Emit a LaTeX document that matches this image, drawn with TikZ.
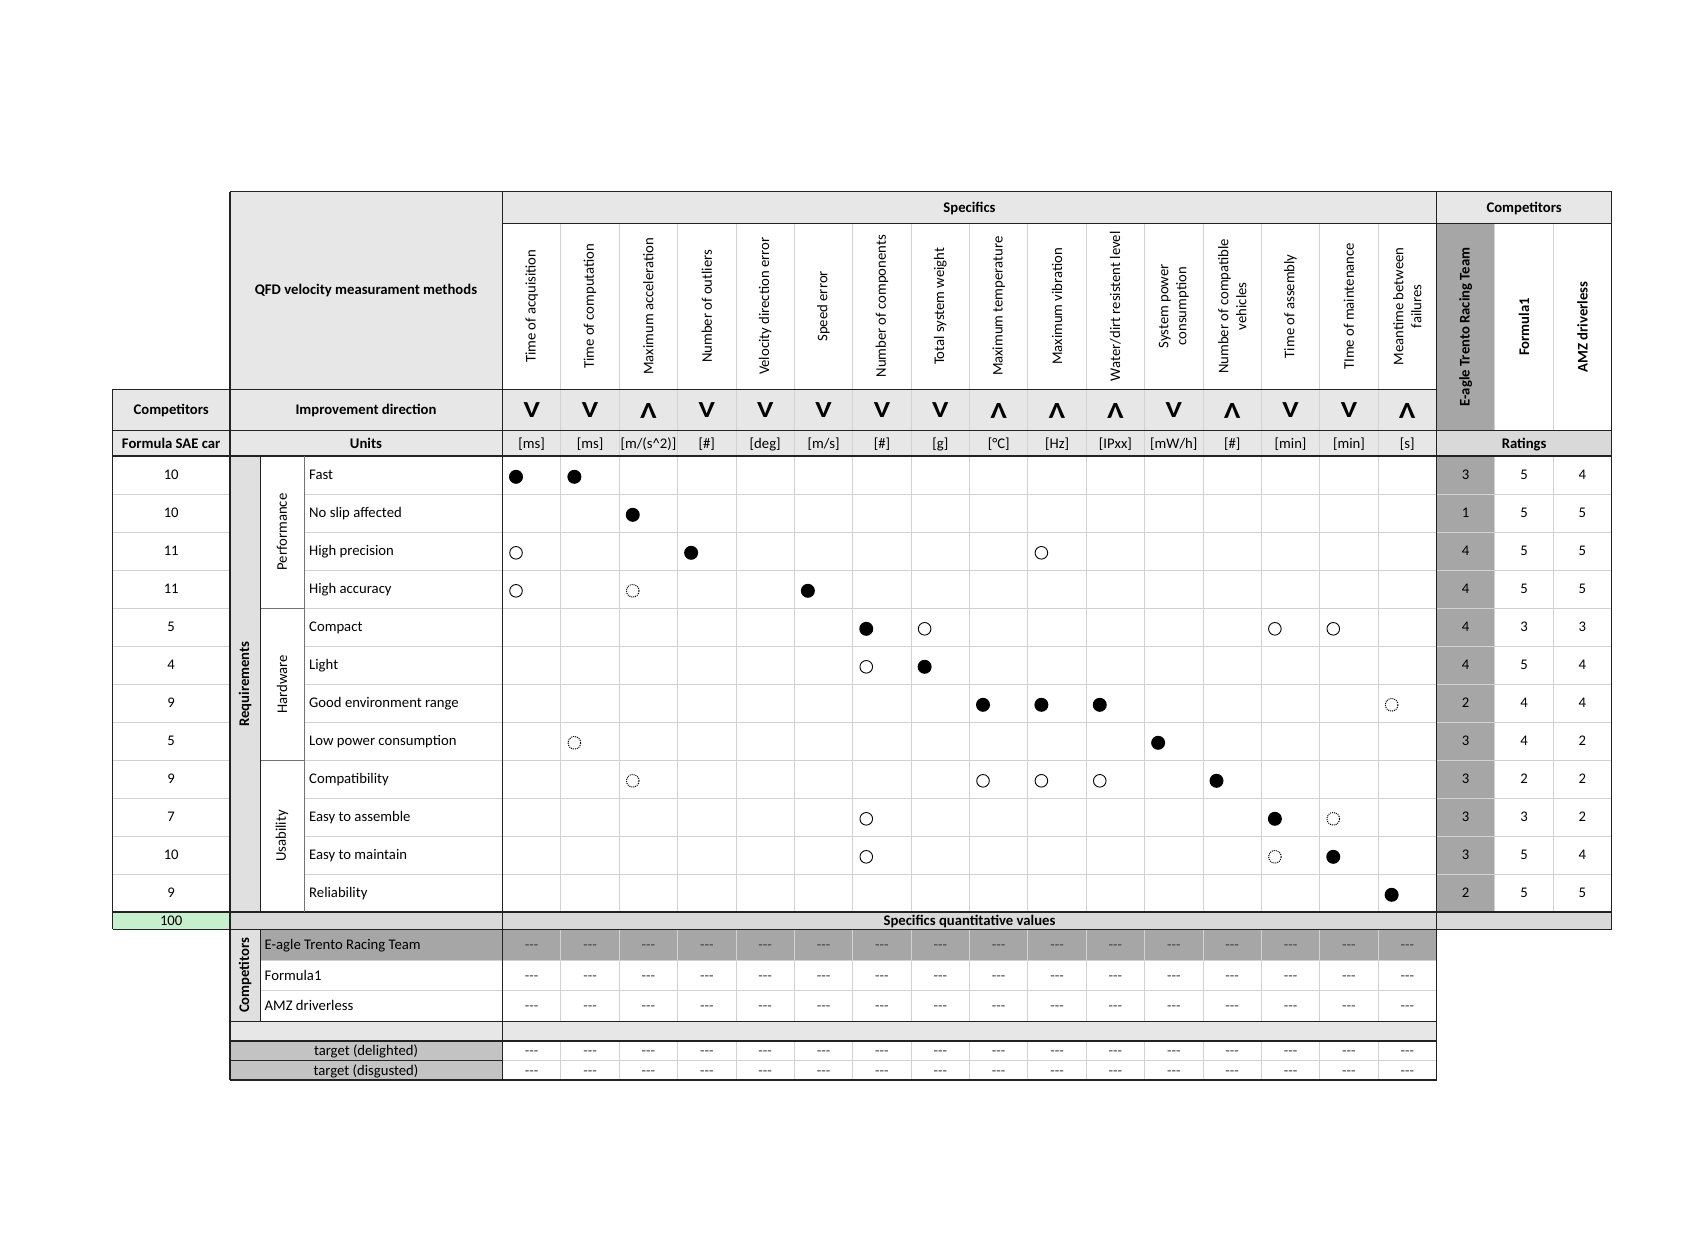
\documentclass[tikz,border=0pt]{standalone}
\usepackage{fontspec}
\setmainfont{Carlito}
\definecolor{hdr}{HTML}{E7E7E7}
\definecolor{rat}{HTML}{D9D9D9}
\definecolor{darkc}{HTML}{A6A6A6}
\definecolor{stripc}{HTML}{E0E0E0}
\definecolor{tgtc}{HTML}{C3C3C3}
\definecolor{grnc}{HTML}{C6EFCE}
\definecolor{gridc}{HTML}{D2D2D2}
\definecolor{linec}{HTML}{222222}
\begin{document}
\begin{tikzpicture}[x=1pt,y=-1pt,
  txt/.style={font=\fontsize{14.7}{18}\selectfont, inner sep=0pt, text=black},
  btxt/.style={font=\fontsize{14.7}{18}\selectfont\bfseries, inner sep=0pt, text=black},
  bl/.style={anchor=base},
  dirsym/.style={font=\fontsize{23}{23}\selectfont\bfseries, inner sep=0pt, xscale=1.2},
  dashtxt/.style={font=\fontsize{14.7}{18}\selectfont, inner sep=0pt, text=black!75, anchor=base},
  heavy/.style={line width=1.4pt, draw=linec},
  thin/.style={line width=1pt, draw=gridc},
  medium/.style={line width=1pt, draw=black!55},
  symF/.style={circle, fill=black, minimum size=14pt, inner sep=0pt},
  symO/.style={circle, draw=black, line width=0.9pt, minimum size=12.6pt, inner sep=0pt},
  symD/.style={circle, draw=black, line width=1pt, dash pattern=on 1pt off 1pt, minimum size=12.6pt, inner sep=0pt}
]
\def\xl{112.7} \def\xm{229.8} \def\xs{260.2} \def\xc{304} \def\xa{502.5} \def\xb{1436.5} \def\xr{1611.7}
\def\yt{191.7} \def\yh{223.3} \def\yi{389.3} \def\yu{430.7} \def\yb{456} \def\ye{912} \def\yf{929.3}
\def\yg{960} \def\yk{990.7} \def\yl{1021.3} \def\ym{1041} \def\yn{1060.7} \def\yo{1080}
\def\cw{58.375}
\useasboundingbox (0,0) rectangle (1700,1259);
\fill[white] (0,0) rectangle (1700,1259);
% ---------- fills
\fill[hdr] (\xm,\yt) rectangle (\xa,\yi);
\fill[hdr] (\xa,\yt) rectangle (\xr,\yh);
\fill[hdr] (\xl,\yi) rectangle (\xb,\yb);
\fill[rat] (\xb,\yu) rectangle (\xr,\yb);
\fill[darkc] (\xb,\yh) rectangle (\xb+\cw,\yu);
\fill[darkc] (\xb,\yb) rectangle (\xb+\cw,\ye);
\fill[stripc] (\xm,\yb) rectangle (\xs,\ye);
\fill[grnc] (\xl,\ye) rectangle (\xm,\yf);
\fill[rat] (\xm,\ye) rectangle (\xr,\yf);
\fill[stripc] (\xm,\yf) rectangle (\xs,\yl);
\fill[darkc] (\xs,\yf) rectangle (\xb,\yg);
\fill[hdr] (\xm,\yl) rectangle (\xb,\ym);
\fill[tgtc] (\xm,\ym) rectangle (\xa,\yo);
% ---------- light grid
\foreach \k in {1,...,15}{
  \pgfmathsetmacro\xx{\xa+\k*\cw}
  \draw[thin] (\xx,\yh) -- (\xx,\ye);
  \draw[thin] (\xx,\yf) -- (\xx,\yl);
  \draw[thin] (\xx,\ym) -- (\xx,\yo);
}
\foreach \j in {1,2}{
  \pgfmathsetmacro\xx{\xb+\j*\cw}
  \draw[thin] (\xx,\yh) -- (\xx,\yu);
  \draw[thin] (\xx,\yb) -- (\xx,\ye);
}
\foreach \r in {1,...,11}{
  \pgfmathsetmacro\yy{\yb+\r*38}
  \draw[thin] (\xl,\yy) -- (\xm,\yy);
  \draw[thin] (\xc,\yy) -- (\xr,\yy);
}
\draw[thin] (\xs,\yg) -- (\xb,\yg);
\draw[thin] (\xs,\yk) -- (\xb,\yk);
\draw[thin] (\xa,\yn) -- (\xb,\yn);
\draw[medium] (\xs,608) -- (\xc,608);
\draw[medium] (\xs,760) -- (\xc,760);
% ---------- heavy lines
\draw[heavy] (\xm,\yt) -- (\xr,\yt);
\draw[heavy] (\xr,\yt) -- (\xr,\yf);
\draw[heavy] (\xl,\yf) -- (\xr,\yf);
\draw[heavy] (\xl,\yi) -- (\xl,\yf);
\draw[heavy] (\xl,\yi) -- (\xb,\yi);
\draw[heavy] (\xl,\yu) -- (\xr,\yu);
\draw[heavy] (\xl,\yb) -- (\xr,\yb);
\draw[heavy] (\xl,\ye) -- (\xr,\ye);
\draw[heavy] (\xm,\yt) -- (\xm,\yo);
\draw[heavy] (\xa,\yt) -- (\xa,\yo);
\draw[heavy] (\xb,\yt) -- (\xb,\yo);
\draw[heavy] (\xa,\yh) -- (\xr,\yh);
\draw[heavy] (\xs,\yb) -- (\xs,\ye);
\draw[heavy] (\xs,\yf) -- (\xs,\yl);
\draw[medium] (\xc,\yb) -- (\xc,\ye);
\draw[heavy] (\xm,\yl) -- (\xb,\yl);
\draw[heavy] (\xm,\ym) -- (\xb,\ym);
\draw[heavy] (\xm,\yn) -- (\xa,\yn);
\draw[heavy] (\xm,\yo) -- (\xb,\yo);
% ---------- header texts
\node[btxt] (qfd) at (366,290.5) {QFD velocity measurament methods};
\node[btxt,bl] (spec) at (969.5,212.3) {Specifics};
\node[btxt,bl] (compT) at (1524.1,212.3) {Competitors};
\node[btxt,bl] (compL) at (171.2,414.8) {Competitors};
\node[btxt,bl] (impr) at (366,414.8) {Improvement direction};
\node[btxt,bl] (fsae) at (171.2,448.1) {Formula SAE car};
\node[btxt,bl] (units) at (366,448.1) {Units};
\node[btxt,bl] (ratings) at (1524.1,448.1) {Ratings};
\foreach \k/\t in {1/{Time of acquisition},2/{Time of computation},3/{Maximum acceleration},4/{Number of outliers},5/{Velocity direction error},6/{Speed error},7/{Number of components},8/{Total system weight},9/{Maximum temperature},10/{Maximum vibration},11/{Water/dirt resistent level},12/{System power\\consumption},13/{Number of compatible\\vehicles},14/{Time of assembly},15/{TIme of maintenance},16/{Meantime between\\failures}}{
  \pgfmathsetmacro\xx{\xa+(\k-0.5)*\cw}
  \node[txt, rotate=90, align=center] (h\k) at (\xx,306.3) {\t};
}
\foreach \k/\d in {1/0,2/0,3/180,4/0,5/0,6/0,7/0,8/0,9/180,10/180,11/180,12/0,13/180,14/0,15/0,16/180}{
  \pgfmathsetmacro\xx{\xa+(\k-0.5)*\cw}
  \node[dirsym, rotate=\d] (d\k) at (\xx,410.5) {V};
}
\foreach \k/\u in {1/{[ms]},2/{[ms]},3/{[m/(s\textasciicircum 2)]},4/{[\#]},5/{[deg]},6/{[m/s]},7/{[\#]},8/{[g]},9/{[°C]},10/{[Hz]},11/{[IPxx]},12/{[mW/h]},13/{[\#]},14/{[min]},15/{[min]},16/{[s]}}{
  \pgfmathsetmacro\xx{\xa+(\k-0.5)*\cw}
  \node[txt,bl] (u\k) at (\xx,448.1) {\u};
}
\node[btxt, rotate=90] (ce) at (\xb+0.5*\cw,327) {E-agle Trento Racing Team};
\node[btxt, rotate=90] (cf) at (\xb+1.5*\cw,327) {Formula1};
\node[btxt, rotate=90] (ca) at (\xb+2.5*\cw,327) {AMZ driverless};
% ---------- body rows
\foreach \r/\w/\lab/\ea/\fo/\am in {1/10/Fast/3/5/4, 2/10/No slip affected/1/5/5, 3/11/High precision/4/5/5, 4/11/High accuracy/4/5/5, 5/5/Compact/4/3/3, 6/4/Light/4/5/4, 7/9/Good environment range/2/4/4, 8/5/Low power consumption/3/4/2, 9/9/Compatibility/3/2/2, 10/7/Easy to assemble/3/3/2, 11/10/Easy to maintain/3/5/4, 12/9/Reliability/2/5/5}{
  \pgfmathsetmacro\yy{\yb+(\r-0.5)*38+4.8}
  \node[txt,bl] (w\r) at (171.2,\yy) {\w};
  \node[txt,anchor=base west] (l\r) at (309,\yy) {\lab};
  \node[txt,bl] (re\r) at (\xb+0.5*\cw,\yy) {\ea};
  \node[txt,bl] (rf\r) at (\xb+1.5*\cw,\yy) {\fo};
  \node[txt,bl] (ra\r) at (\xb+2.5*\cw,\yy) {\am};
}
\node[txt, rotate=90] (perf) at (282,532) {Performance};
\node[txt, rotate=90] (hard) at (282,684) {Hardware};
\node[txt, rotate=90] (usab) at (282,836) {Usability};
\node[btxt, rotate=90] (req) at (245,684) {Requirements};
% ---------- relationship symbols
\foreach \r/\c/\t in {1/1/F,1/2/F,2/3/F,3/1/O,3/4/F,3/10/O,4/1/O,4/3/D,4/6/F,5/7/F,5/8/O,5/14/O,5/15/O,6/7/O,6/8/F,7/9/F,7/10/F,7/11/F,7/16/D,8/2/D,8/12/F,9/3/D,9/9/O,9/10/O,9/11/O,9/13/F,10/7/O,10/14/F,10/15/D,11/7/O,11/14/D,11/15/F,12/16/F}{
  \pgfmathsetmacro\xx{\xa+(\c-1)*\cw+13.5}
  \pgfmathsetmacro\yy{\yb+(\r-0.5)*38+1.8}
  \node[sym\t] (s\r-\c) at (\xx,\yy) {};
}
% ---------- totals row
\node[txt,bl] (tot) at (171.2,925.5) {100};
\node[btxt,bl] (sqv) at (969.5,925.5) {Specifics quantitative values};
% ---------- lower section
\node[btxt, rotate=90] (compB) at (245,975.3) {Competitors};
\node[txt,anchor=base west] (ne) at (264.5,949.5) {E-agle Trento Racing Team};
\node[txt,anchor=base west] (nf) at (264.5,980.1) {Formula1};
\node[txt,anchor=base west] (na) at (264.5,1010.8) {AMZ driverless};
\node[txt,bl] (td) at (366,1055.6) {target (delighted)};
\node[txt,bl] (tg) at (366,1075.1) {target (disgusted)};
\foreach \k in {1,...,16}{
  \pgfmathsetmacro\xx{\xa+(\k-0.5)*\cw}
  \node[dashtxt] (qe\k) at (\xx,949.5) {-{}-{}-};
  \node[dashtxt] (qf\k) at (\xx,980.1) {-{}-{}-};
  \node[dashtxt] (qa\k) at (\xx,1010.8) {-{}-{}-};
  \node[dashtxt] (qd\k) at (\xx,1055.6) {-{}-{}-};
  \node[dashtxt] (qg\k) at (\xx,1075.1) {-{}-{}-};
}
\end{tikzpicture}
\end{document}
